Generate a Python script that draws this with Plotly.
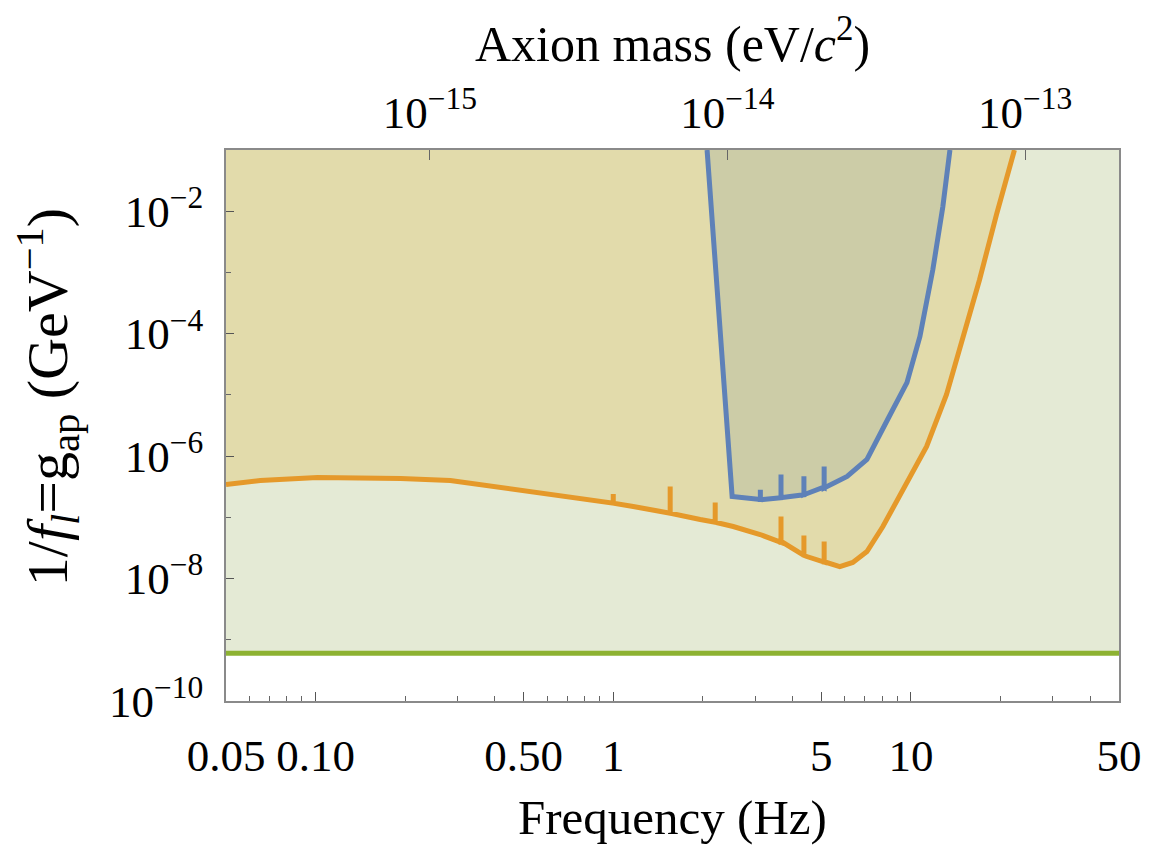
import plotly.graph_objects as go
import numpy as np

# ---------------- data ----------------
H_EV_S = 4.135667e-15          # Planck constant, eV*s  (mass axis = h*f)
F_MIN, F_MAX = 0.05, 50.0
G_MIN, G_MAX = 1e-10, 1e-1

# orange curve
orange_f = [0.0500, 0.0652, 0.1015, 0.193, 0.2835, 0.4174, 0.6147, 0.9045, 1.167, 1.517,
            1.959, 2.529, 3.115, 3.718, 4.468, 5.213, 5.768, 6.377, 7.116, 8.049,
            9.173, 10.31, 11.29, 13.17, 15.38, 17.0, 19.38, 22.27]
orange_g = [3.44e-7, 3.99e-7, 4.47e-7, 4.31e-7, 3.99e-7, 3.07e-7, 2.36e-7, 1.75e-7, 1.50e-7, 1.20e-7,
            9.2e-8, 7.08e-8, 5.24e-8, 3.88e-8, 2.29e-8, 1.83e-8, 1.57e-8, 1.83e-8, 2.77e-8, 7.08e-8,
            2.19e-7, 6.03e-7, 1.44e-6, 1.02e-5, 1.51e-4, 7.6e-4, 8.83e-3, 1.0e-1]
orange_spike_f = [1.0, 1.553, 2.20, 3.66, 4.37, 5.11]
orange_spike_base = [1.70e-7, 1.17e-7, 8.3e-8, 3.9e-8, 2.4e-8, 1.86e-8]
orange_spike_peak = [2.40e-7, 3.18e-7, 1.75e-7, 1.03e-7, 5.04e-8, 4.03e-8]

# blue curve
blue_f = [2.066, 2.508, 3.187, 3.926, 5.066, 6.103, 7.116, 8.35, 9.697, 10.72, 11.85, 12.80, 13.52]
blue_g = [1.0e-1, 2.19e-7, 1.95e-7, 2.19e-7, 3.07e-7, 4.65e-7, 8.81e-7, 3.96e-6, 1.59e-5,
          9.0e-5, 1.12e-3, 1.19e-2, 1.0e-1]
blue_spike_f = [3.12, 3.66, 4.37, 5.11]
blue_spike_base = [1.95e-7, 2.09e-7, 2.34e-7, 3.02e-7]
blue_spike_peak = [2.82e-7, 5.0e-7, 4.68e-7, 6.76e-7]

# green horizontal limit
green_f = [F_MIN, F_MAX]
green_g = [6.0e-10, 6.0e-10]

# ticks
x_tickvals = [0.05, 0.1, 0.5, 1, 5, 10, 50]
x_ticktext = ["0.05", "0.10", "0.50", "1", "5", "10", "50"]
x_minor = [0.06, 0.07, 0.08, 0.09, 0.2, 0.3, 0.4, 0.6, 0.7, 0.8, 0.9,
           2, 3, 4, 6, 7, 8, 9, 20, 30, 40]
y_tickvals = [1e-10, 1e-8, 1e-6, 1e-4, 1e-2]
y_ticktext = ["10<sup>−10</sup>", "10<sup>−8</sup>", "10<sup>−6</sup>", "10<sup>−4</sup>", "10<sup>−2</sup>"]
y_minor = [1e-9, 1e-7, 1e-5, 1e-3]
m_tickvals = [1e-15, 1e-14, 1e-13]
m_ticktext = ["10<sup>−15</sup>", "10<sup>−14</sup>", "10<sup>−13</sup>"]

# ---------------- helpers ----------------
def with_spikes(f, g, sf, sb, sp):
    pts = [(a, 0, b) for a, b in zip(f, g)]
    for a, b, c in zip(sf, sb, sp):
        pts += [(a, 1, b), (a, 2, c), (a, 3, b)]
    pts.sort(key=lambda t: (t[0], t[1]))
    return [p[0] for p in pts], [p[2] for p in pts]

of, og = with_spikes(orange_f, orange_g, orange_spike_f, orange_spike_base, orange_spike_peak)
bf, bg = with_spikes(blue_f, blue_g, blue_spike_f, blue_spike_base, blue_spike_peak)

C_GREEN_FILL = "#E4EAD5"
C_TAN_FILL = "#E2DBAB"
C_BLUE_FILL = "#CCCCA7"
C_ORANGE = "#E5992A"
C_BLUE = "#5E81B8"
C_GREEN = "#8DB232"
FONT = "Liberation Serif"

fig = go.Figure()
# fills
fig.add_trace(go.Scatter(x=green_f + [green_f[-1], green_f[0]], y=green_g + [G_MAX, G_MAX],
                         fill="toself", fillcolor=C_GREEN_FILL, mode="none", hoverinfo="skip"))
fig.add_trace(go.Scatter(x=of + [of[-1], of[0]], y=og + [G_MAX, G_MAX],
                         fill="toself", fillcolor=C_TAN_FILL, mode="none", hoverinfo="skip"))
fig.add_trace(go.Scatter(x=bf + [bf[-1], bf[0]], y=bg + [G_MAX, G_MAX],
                         fill="toself", fillcolor=C_BLUE_FILL, mode="none", hoverinfo="skip"))
# lines
fig.add_trace(go.Scatter(x=green_f, y=green_g, mode="lines", line=dict(color=C_GREEN, width=5)))
fig.add_trace(go.Scatter(x=of, y=og, mode="lines", line=dict(color=C_ORANGE, width=5)))
fig.add_trace(go.Scatter(x=bf, y=bg, mode="lines", line=dict(color=C_BLUE, width=5)))
# invisible trace to activate the top (mass) axis
fig.add_trace(go.Scatter(x=[F_MIN * H_EV_S, F_MAX * H_EV_S], y=[G_MIN, G_MIN], xaxis="x2",
                         mode="lines", line=dict(width=0), hoverinfo="skip"))

tickfont = dict(family=FONT, size=45, color="black")
fig.update_layout(
    width=1168, height=849,
    margin=dict(l=226, r=49, t=150, b=148),
    paper_bgcolor="white", plot_bgcolor="white",
    showlegend=False,
    xaxis=dict(type="log", range=[np.log10(F_MIN), np.log10(F_MAX)],
               tickmode="array", tickvals=x_tickvals, ticktext=x_ticktext,
               ticks="inside", ticklen=9, tickwidth=1.3, tickcolor="#555555",
               minor=dict(tickmode="array", tickvals=x_minor, ticks="inside",
                          ticklen=5, tickwidth=1.1, tickcolor="#666666", showgrid=False),
               showgrid=False, zeroline=False,
               showline=True, linecolor="#8a8a8a", linewidth=1.5, mirror=True,
               tickfont=tickfont, ticklabelstandoff=14),
    xaxis2=dict(type="log", overlaying="x", side="top", anchor="y",
                range=[np.log10(F_MIN * H_EV_S), np.log10(F_MAX * H_EV_S)],
                tickmode="array", tickvals=m_tickvals, ticktext=m_ticktext,
                ticks="inside", ticklen=10, tickwidth=1.3, tickcolor="#666666",
                showgrid=False, zeroline=False, showline=False,
                tickfont=tickfont, ticklabelstandoff=12),
    yaxis=dict(type="log", range=[np.log10(G_MIN), np.log10(G_MAX)],
               tickmode="array", tickvals=y_tickvals, ticktext=y_ticktext,
               ticks="inside", ticklen=8, tickwidth=1.3, tickcolor="#555555",
               minor=dict(tickmode="array", tickvals=y_minor, ticks="inside",
                          ticklen=5, tickwidth=1.1, tickcolor="#666666", showgrid=False),
               showgrid=False, zeroline=False,
               showline=True, linecolor="#8a8a8a", linewidth=1.5, mirror=True,
               tickfont=tickfont, ticklabelstandoff=12),
    annotations=[
        dict(text="Axion mass (eV/<i>c</i><sup>2</sup>)", xref="paper", yref="paper",
             x=0.5, y=1.198, xanchor="center", yanchor="middle", showarrow=False,
             font=dict(family=FONT, size=50, color="black")),
        dict(text="Frequency (Hz)", xref="paper", yref="paper",
             x=0.5, y=-0.212, xanchor="center", yanchor="middle", showarrow=False,
             font=dict(family=FONT, size=49, color="black")),
        dict(text="1/<i>f<sub>l</sub></i>=g<sub>ap</sub> (GeV<sup>−1</sup>)", xref="paper", yref="paper",
             x=-0.2, y=0.552, xanchor="center", yanchor="middle", showarrow=False, textangle=-90,
             font=dict(family=FONT, size=58, color="black")),
    ],
)

fig.write_html("out.html")
